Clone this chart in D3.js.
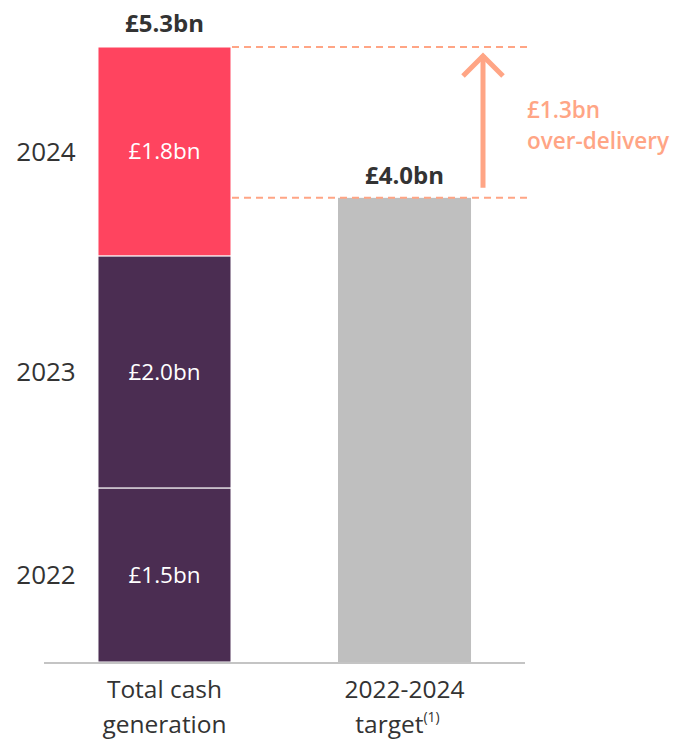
<!DOCTYPE html>
<html>
<head>
<meta charset="utf-8">
<script src="https://cdn.jsdelivr.net/npm/d3@7"></script>
<style>
  html, body { margin: 0; padding: 0; background: #fff; }
  svg { display: block; font-family: "Open Sans", Lato, sans-serif; }
</style>
</head>
<body>
<svg id="chart" width="678" height="740"></svg>
<script>
// Cash generation by year vs. the three-year target (£bn)
const categories = ["Total cash generation", "2022-2024 target"];
const years = ["2022", "2023", "2024"];
const yearValues = [1.5, 2.0, 1.8];
const yearColors = ["#4B2D52", "#4B2D52", "#FF445F"];
const totalValue = 5.3;
const targetValue = 4.0;
const overDelivery = 1.3;
const totalLabel = "£5.3bn";
const targetLabel = "£4.0bn";
const segmentLabels = ["£1.5bn", "£2.0bn", "£1.8bn"];
const overLabels = ["£1.3bn", "over-delivery"];

const svg = d3.select("#chart");
const baseY = 662, topY = 47;
const accent = "#FFA585";
const dark = "#333333";

const x = d3.scaleBand()
  .domain(categories)
  .range([44, 525])
  .paddingInner(0.4458)
  .paddingOuter(0.2249);

const y = d3.scaleLinear()
  .domain([0, totalValue])
  .range([baseY, topY]);

// stacked segments for the total bar
const stacked = [];
let acc = 0;
yearValues.forEach((v, i) => {
  stacked.push({ year: years[i], y0: acc, y1: acc + v, color: yearColors[i], label: segmentLabels[i] });
  acc += v;
});

const bx = x(categories[0]), bw = x.bandwidth();

svg.append("g").selectAll("rect")
  .data(stacked)
  .join("rect")
  .attr("x", bx)
  .attr("y", d => y(d.y1))
  .attr("width", bw)
  .attr("height", d => y(d.y0) - y(d.y1))
  .attr("fill", d => d.color)
  .attr("stroke", "#ffffff")
  .attr("stroke-width", 1);

svg.append("g").selectAll("text")
  .data(stacked)
  .join("text")
  .attr("x", bx + bw / 2)
  .attr("y", d => y((d.y0 + d.y1) / 2))
  .attr("dy", "0.35em")
  .attr("text-anchor", "middle")
  .attr("fill", "#ffffff")
  .attr("font-size", 22.5)
  .text(d => d.label);

// year labels to the left of the stack
svg.append("g").selectAll("text")
  .data(stacked)
  .join("text")
  .attr("x", 46)
  .attr("y", d => y((d.y0 + d.y1) / 2))
  .attr("dy", "0.35em")
  .attr("text-anchor", "middle")
  .attr("fill", dark)
  .attr("font-size", 26)
  .text(d => d.year);

// target bar
const tx = x(categories[1]);
svg.append("rect")
  .attr("x", tx)
  .attr("y", y(targetValue))
  .attr("width", bw)
  .attr("height", baseY - y(targetValue))
  .attr("fill", "#BFBFBF");

// value labels above bars
svg.append("text")
  .attr("x", bx + bw / 2)
  .attr("y", y(totalValue) - 15)
  .attr("text-anchor", "middle")
  .attr("fill", dark)
  .attr("font-size", 24)
  .attr("font-weight", 700)
  .text(totalLabel);

svg.append("text")
  .attr("x", tx + bw / 2)
  .attr("y", y(targetValue) - 14)
  .attr("text-anchor", "middle")
  .attr("fill", dark)
  .attr("font-size", 24)
  .attr("font-weight", 700)
  .text(targetLabel);

// baseline
svg.append("line")
  .attr("x1", 44).attr("x2", 525)
  .attr("y1", baseY + 1).attr("y2", baseY + 1)
  .attr("stroke", "#C4C4C4")
  .attr("stroke-width", 2);

// dashed reference lines at total and target
[totalValue, targetValue].forEach(v => {
  svg.append("line")
    .attr("x1", bx + bw + 1).attr("x2", 527)
    .attr("y1", y(v)).attr("y2", y(v))
    .attr("stroke", accent)
    .attr("stroke-width", 2)
    .attr("stroke-dasharray", "7,5");
});

// over-delivery arrow
const ax = 483;
const arrowTop = y(targetValue + overDelivery) + 8;
const arrowBottom = y(targetValue) - 10;
svg.append("line")
  .attr("x1", ax).attr("x2", ax)
  .attr("y1", arrowTop).attr("y2", arrowBottom)
  .attr("stroke", accent)
  .attr("stroke-width", 5);
svg.append("path")
  .attr("d", `M${ax - 20},${arrowTop + 21} L${ax},${arrowTop + 1} L${ax + 20},${arrowTop + 21}`)
  .attr("fill", "none")
  .attr("stroke", accent)
  .attr("stroke-width", 5);

const ot = svg.append("text")
  .attr("x", 527)
  .attr("fill", accent)
  .attr("font-size", 22.5)
  .attr("font-weight", 600);
ot.append("tspan").attr("x", 527).attr("y", 118).text(overLabels[0]);
ot.append("tspan").attr("x", 527).attr("y", 149).text(overLabels[1]);

// category labels
const c1 = svg.append("text")
  .attr("text-anchor", "middle")
  .attr("fill", dark)
  .attr("font-size", 24.5);
c1.append("tspan").attr("x", bx + bw / 2).attr("y", 698).text("Total cash");
c1.append("tspan").attr("x", bx + bw / 2).attr("y", 733).text("generation");

const c2 = svg.append("text")
  .attr("text-anchor", "middle")
  .attr("fill", dark)
  .attr("font-size", 24.5);
c2.append("tspan").attr("x", tx + bw / 2).attr("y", 698).text("2022-2024");
const t2 = c2.append("tspan").attr("x", tx + bw / 2 - 7).attr("y", 733);
t2.append("tspan").text("target");
t2.append("tspan").attr("font-size", 14).attr("dy", -11).text("(1)");
</script>
</body>
</html>
